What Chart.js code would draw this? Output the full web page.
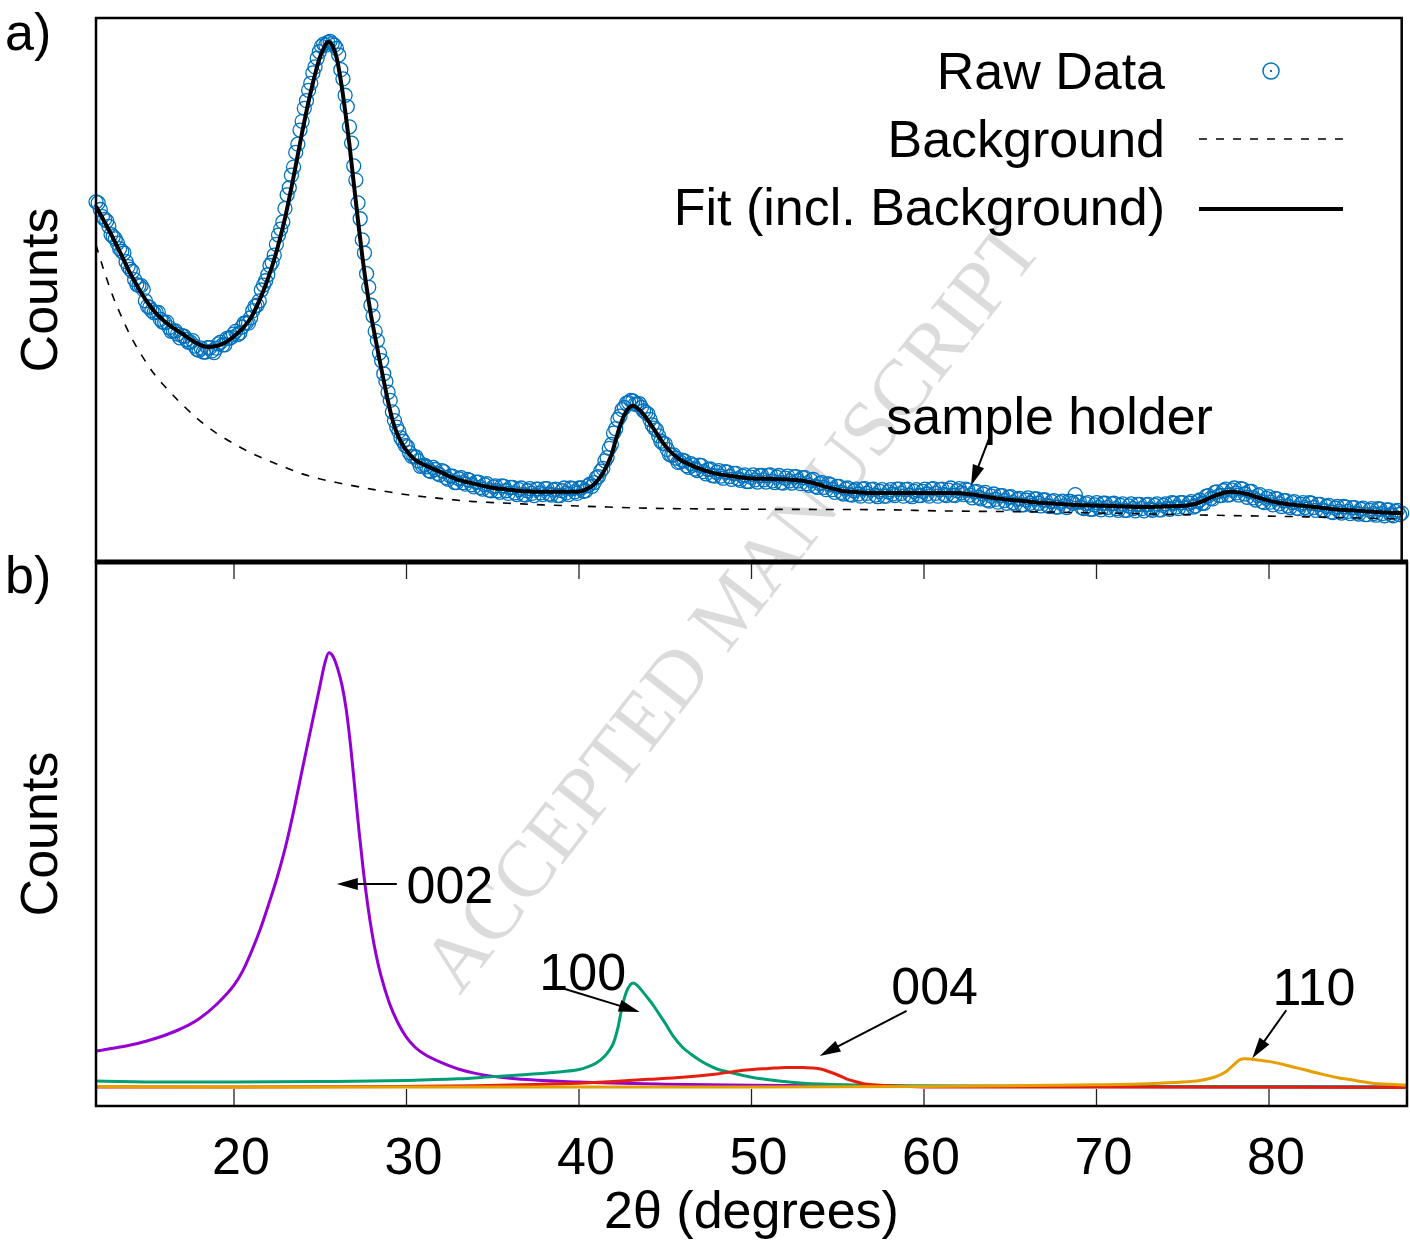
<!DOCTYPE html>
<html>
<head>
<meta charset="utf-8">
<script src="https://cdn.jsdelivr.net/npm/chart.js@4.4.1/dist/chart.umd.min.js"></script>
<style>
  body { margin: 0; background: #fff; }
  #wrap { position: relative; width: 1410px; height: 1242px; }
  #wrap canvas { position: absolute; left: 0; top: 0; }
</style>
</head>
<body>
<div id="wrap">
  <canvas id="bottomChart" width="1410" height="1242"></canvas>
  <canvas id="topChart" width="1410" height="1242"></canvas>
</div>
<script>
// x range (2 theta, degrees)
const xMin = 12;
const xMax = 88;

// Raw data, one point every 0.125 deg from 12 to 88 (arbitrary counts), 8 per row
const rawStart = 12;
const rawStep = 0.125;
const rawY = [
  662, 660, 648, 635, 630, 627, 617, 602,
  598, 594, 586, 576, 571, 568, 552, 543,
  538, 534, 519, 510, 508, 508, 501, 480,
  470, 468, 462, 458, 459, 459, 446, 441,
  440, 441, 431, 424, 425, 425, 419, 412,
  416, 415, 409, 404, 404, 407, 397, 391,
  389, 393, 386, 386, 394, 394, 388, 385,
  393, 401, 404, 399, 399, 411, 411, 413,
  419, 424, 418, 421, 432, 439, 440, 439,
  449, 462, 470, 472, 480, 500, 509, 517,
  528, 545, 551, 564, 584, 601, 612, 625,
  650, 675, 688, 711, 726, 753, 768, 794,
  810, 834, 848, 867, 880, 899, 910, 926,
  938, 948, 952, 950, 955, 957, 953, 950,
  944, 932, 905, 888, 858, 837, 800, 770,
  728, 702, 660, 631, 592, 568, 530, 505,
  472, 452, 424, 407, 384, 370, 346, 332,
  312, 297, 276, 260, 248, 240, 228, 222,
  214, 212, 201, 194, 194, 193, 186, 176,
  177, 178, 175, 168, 166, 174, 170, 163,
  160, 168, 166, 155, 152, 158, 158, 146,
  146, 153, 155, 146, 143, 152, 150, 142,
  138, 147, 147, 137, 134, 142, 144, 132,
  131, 138, 140, 131, 128, 140, 139, 131,
  126, 137, 137, 127, 124, 133, 136, 124,
  123, 131, 135, 126, 122, 134, 134, 127,
  124, 135, 135, 125, 123, 132, 134, 122,
  122, 131, 136, 127, 124, 136, 135, 129,
  126, 136, 136, 130, 131, 140, 143, 139,
  146, 155, 157, 167, 172, 186, 192, 209,
  216, 237, 245, 262, 268, 280, 284, 292,
  293, 297, 296, 290, 290, 291, 284, 278,
  275, 272, 262, 252, 246, 243, 232, 222,
  218, 217, 207, 198, 196, 197, 191, 183,
  184, 187, 186, 177, 174, 181, 178, 171,
  168, 178, 177, 166, 162, 170, 171, 159,
  158, 165, 168, 158, 154, 166, 165, 157,
  152, 163, 163, 153, 150, 158, 160, 148,
  148, 156, 160, 151, 147, 159, 159, 151,
  147, 159, 160, 149, 146, 156, 159, 146,
  145, 154, 158, 149, 145, 157, 157, 149,
  144, 155, 155, 144, 141, 150, 152, 139,
  137, 144, 146, 137, 133, 144, 142, 133,
  128, 139, 139, 128, 125, 134, 136, 124,
  123, 131, 134, 125, 121, 134, 135, 126,
  121, 133, 134, 123, 120, 130, 133, 121,
  121, 129, 133, 125, 122, 134, 134, 126,
  121, 133, 134, 123, 120, 130, 133, 122,
  122, 130, 134, 125, 121, 134, 135, 126,
  121, 133, 134, 124, 122, 132, 136, 123,
  122, 131, 135, 127, 124, 134, 132, 123,
  118, 129, 130, 119, 116, 125, 128, 114,
  112, 121, 125, 115, 110, 122, 122, 113,
  108, 119, 120, 109, 106, 115, 117, 105,
  105, 114, 118, 108, 104, 116, 116, 108,
  103, 114, 114, 104, 102, 111, 113, 101,
  101, 109, 112, 103, 100, 112, 111, 108,
  124, 110, 110, 100, 98, 107, 109, 97,
  97, 105, 109, 100, 96, 108, 108, 100,
  96, 107, 108, 98, 95, 104, 107, 95,
  95, 103, 107, 98, 94, 106, 106, 98,
  94, 105, 106, 97, 95, 104, 107, 96,
  96, 104, 107, 99, 97, 109, 108, 101,
  98, 109, 109, 100, 99, 108, 111, 101,
  103, 111, 114, 108, 108, 121, 122, 117,
  116, 128, 129, 122, 122, 131, 134, 123,
  124, 132, 136, 127, 123, 135, 134, 125,
  119, 130, 130, 118, 114, 122, 124, 111,
  109, 117, 120, 110, 105, 117, 116, 107,
  102, 113, 113, 103, 100, 109, 111, 99,
  98, 106, 109, 100, 97, 109, 108, 100,
  95, 106, 106, 96, 94, 102, 104, 92,
  91, 99, 102, 93, 90, 102, 101, 93,
  89, 100, 100, 90, 88, 97, 99, 87,
  87, 95, 98, 89, 86, 98, 97, 89,
  85, 96, 96, 87, 85, 93, 95, 87,
  90
];

// Fit (incl. background)
const fitX = [12, 12.5, 13, 13.5, 14, 14.5, 15, 15.5, 16, 16.5, 17, 17.5, 18, 18.5, 19, 19.5, 20, 20.5, 21, 21.5,
  22, 22.5, 23, 23.5, 24, 24.5, 25, 25.25, 25.5, 25.75, 26, 26.25, 26.5, 26.75, 27, 27.25, 27.5, 27.75, 28, 28.25,
  28.5, 28.75, 29, 29.25, 29.5, 29.75, 30, 30.5, 31, 31.5, 32, 33, 34, 35, 36, 37, 38, 39, 40, 40.5,
  41, 41.5, 42, 42.25, 42.5, 42.75, 43, 43.25, 43.5, 43.75, 44, 44.5, 45, 45.5, 46, 46.5, 47, 48, 49, 50,
  51, 52, 53, 53.5, 54, 54.5, 55, 55.5, 56, 57, 58, 60, 62, 63, 64, 65, 66, 67, 68, 69,
  70, 71, 72, 73, 74, 75, 75.5, 76, 76.5, 77, 77.5, 78, 78.5, 79, 79.5, 80, 80.5, 81, 82, 83,
  84, 85, 86, 87, 88];
const fitY = [654, 625, 595, 563, 530, 502, 477, 457, 442, 430, 420, 409, 400, 395, 397, 403, 414, 428, 448, 480,
  520, 570, 632, 708, 790, 864, 925, 944, 956, 950, 928, 885, 830, 768, 697, 628, 562, 505, 455, 413,
  372, 333, 295, 262, 238, 221, 208, 190, 180, 173, 166, 152, 144, 137, 133, 130, 129, 129, 129, 133,
  143, 163, 197, 224, 250, 270, 283, 287, 283, 276, 266, 243, 219, 201, 188, 180, 173, 163, 158, 154,
  153, 152, 150, 147, 143, 138, 134, 130, 129, 127, 127, 127, 127, 124, 119, 115, 112, 109, 107, 105,
  104, 103, 102, 101, 102, 103, 104, 107, 113, 120, 126, 129, 128, 125, 120, 115, 111, 108, 104, 101,
  97, 95, 93, 91, 90];

// Background
const bgX = [12, 12.4, 13, 13.5, 14, 14.5, 15, 15.5, 16, 17, 18, 19, 20, 21, 22, 23, 24, 25, 26, 27,
  28, 29, 30, 32, 34, 36, 38, 40, 44, 50, 58, 61, 67, 77, 82.5, 88];
const bgY = [583, 542, 487, 450, 416, 388, 363, 341, 323, 290, 261, 237, 218, 201, 187, 174, 162, 153, 146, 140,
  134, 129, 124, 117, 111, 108, 105, 103, 99, 97, 96, 94, 92, 86, 83, 79];

// Fitted peaks (panel b)
const peak002X = [12, 13, 14, 15, 16, 17, 18, 19, 20, 20.5, 21, 21.5, 22, 22.5, 23, 23.5, 24, 24.5, 25, 25.25,
  25.5, 25.75, 26, 26.25, 26.5, 26.75, 27, 27.25, 27.5, 27.75, 28, 28.25, 28.5, 29, 29.5, 30, 30.5, 31, 32, 33,
  34, 36, 40, 45, 50, 60, 88];
const peak002Y = [101, 106, 112, 120, 130, 143, 161, 187, 222, 248, 283, 323, 370, 420, 478, 548, 625, 700, 775, 812,
  833, 826, 805, 775, 730, 665, 585, 505, 432, 370, 318, 276, 242, 190, 153, 126, 108, 96, 80, 68,
  60, 51, 44, 40, 38, 36, 35];

const peak100X = [12, 16, 20, 25, 30, 33, 35, 37, 39, 40, 40.5, 41, 41.5, 41.75, 42, 42.25, 42.5, 42.75, 43, 43.15,
  43.4, 43.75, 44, 44.27, 44.5, 45, 45.43, 46, 46.5, 47, 47.5, 48, 48.73, 50, 51.6, 53, 55.5, 60, 70, 88];
const peak100Y = [46, 44, 44, 45, 47, 50, 54, 58, 63, 67, 72, 79, 92, 102, 116, 143, 182, 210, 224, 226,
  221, 208, 198, 187, 176, 152, 130, 108, 95, 84, 75, 68, 62, 53, 46, 42, 39, 37, 36, 35];

const peak004X = [12, 20, 30, 34, 38, 40, 42, 44, 46, 48, 49.7, 51, 52, 53, 53.5, 54, 54.5, 55, 55.5, 56,
  56.5, 57, 58, 60, 70, 88];
const peak004Y = [35, 35, 36, 37, 40, 42, 45, 49, 53, 59, 66, 69, 71, 71, 70, 68, 63, 57, 50, 45,
  41, 39, 37, 35, 35, 34];

const peak110X = [12, 20, 30, 40, 50, 60, 65, 70, 73, 75, 76, 76.5, 77, 77.5, 78, 78.3, 78.6, 79, 79.5, 80,
  81, 82, 83, 84, 85, 86, 87, 88];
const peak110Y = [36, 35, 35, 35, 35, 36, 37, 39, 41, 44, 47, 50, 55, 63, 77, 85, 87, 86, 84, 82,
  75, 67, 59, 52, 47, 42, 40, 38];

const xTickStep = 10;

// label + arrow annotations, in data units
const topNotes = [
  { text: 'sample holder', tx: 58.0, ty: 235, from: [63.97, 226], to: [62.93, 140] }
];
const bottomNotes = [
  { text: '002', tx: 30.0, ty: 373, from: [29.44, 408], to: [25.96, 408] },
  { text: '100', tx: 37.7, ty: 213, from: [39.0, 217], to: [43.52, 173] },
  { text: '004', tx: 58.1, ty: 187, from: [58.99, 175], to: [53.95, 92] },
  { text: '110', tx: 80.2, ty: 186, from: [81.0, 176], to: [79.03, 88] }
];

const FONT = "'Liberation Sans', Arial, Helvetica, sans-serif";
Chart.defaults.font.family = FONT;
Chart.defaults.font.size = 52;
Chart.defaults.color = '#000';

const toPoints = (xs, ys) => xs.map((x, i) => ({ x: x, y: ys[i] }));
const rawPoints = rawY.map((y, i) => ({ x: rawStart + i * rawStep, y: y }));

function drawArrow(ctx, x1, y1, x2, y2) {
  const a = Math.atan2(y2 - y1, x2 - x1);
  const c = Math.cos(a), s = Math.sin(a);
  ctx.beginPath();
  ctx.moveTo(x1, y1);
  ctx.lineTo(x2 - 12 * c, y2 - 12 * s);
  ctx.stroke();
  ctx.beginPath();
  ctx.moveTo(x2, y2);
  ctx.lineTo(x2 - 21 * c + 6 * s, y2 - 21 * s - 6 * c);
  ctx.lineTo(x2 - 21 * c - 6 * s, y2 - 21 * s + 6 * c);
  ctx.closePath();
  ctx.fill();
}

// frame + notes, shared by both panels
const panelPlugin = {
  id: 'panel',
  afterDraw(chart, args, opts) {
    const { ctx, chartArea: a, scales } = chart;
    ctx.save();
    ctx.strokeStyle = '#000';
    ctx.lineWidth = 2.5;
    ctx.strokeRect(a.left, a.top, a.right - a.left, a.bottom - a.top);

    ctx.font = '52px ' + FONT;
    ctx.fillStyle = '#000';
    ctx.textAlign = 'left';
    ctx.textBaseline = 'alphabetic';
    ctx.fillText(opts.tag, 5, opts.tagY);

    ctx.lineWidth = 2;
    (opts.notes || []).forEach(n => {
      ctx.fillText(n.text, scales.x.getPixelForValue(n.tx), scales.y.getPixelForValue(n.ty));
      drawArrow(ctx,
        scales.x.getPixelForValue(n.from[0]), scales.y.getPixelForValue(n.from[1]),
        scales.x.getPixelForValue(n.to[0]), scales.y.getPixelForValue(n.to[1]));
    });
    ctx.restore();
  }
};

// key for panel a, text right aligned with sample to the right
const keyPlugin = {
  id: 'key',
  afterDraw(chart) {
    const ctx = chart.ctx;
    const ds = chart.data.datasets;
    const raw = ds[2], bg = ds[1], fit = ds[0];
    ctx.save();
    ctx.font = '52px ' + FONT;
    ctx.fillStyle = '#000';
    ctx.textAlign = 'right';
    ctx.textBaseline = 'alphabetic';
    ctx.fillText(raw.label, 1165, 89);
    ctx.fillText(bg.label, 1165, 157);
    ctx.fillText(fit.label, 1165, 225);

    ctx.strokeStyle = raw.pointBorderColor;
    ctx.lineWidth = 1.5;
    ctx.beginPath();
    ctx.arc(1271, 71, 8, 0, Math.PI * 2);
    ctx.stroke();
    ctx.fillStyle = raw.pointBorderColor;
    ctx.fillRect(1270, 70, 2, 2);

    ctx.strokeStyle = '#000';
    ctx.lineWidth = bg.borderWidth;
    ctx.setLineDash(bg.borderDash);
    ctx.beginPath();
    ctx.moveTo(1199, 139);
    ctx.lineTo(1343, 139);
    ctx.stroke();
    ctx.setLineDash([]);
    ctx.lineWidth = fit.borderWidth;
    ctx.beginPath();
    ctx.moveTo(1199, 209);
    ctx.lineTo(1343, 209);
    ctx.stroke();
    ctx.restore();
  }
};

// inward ticks on panel b, the thick divider, and the watermark
const bottomDecor = {
  id: 'bottomDecor',
  beforeDatasetsDraw(chart) {
    const ctx = chart.ctx;
    ctx.save();
    ctx.translate(752, 622);
    ctx.rotate(-52 * Math.PI / 180);
    ctx.font = "80px 'Liberation Serif', 'Times New Roman', serif";
    ctx.fillStyle = 'rgba(0,0,0,0.14)';
    ctx.textAlign = 'center';
    ctx.textBaseline = 'alphabetic';
    ctx.fillText('ACCEPTED MANUSCRIPT', 0, 0);
    ctx.restore();
  },
  afterDraw(chart) {
    const { ctx, chartArea: a, scales } = chart;
    ctx.save();
    ctx.strokeStyle = '#222';
    ctx.lineWidth = 1.3;
    scales.x.ticks.forEach(t => {
      const px = scales.x.getPixelForValue(t.value);
      ctx.beginPath();
      ctx.moveTo(px, a.bottom);
      ctx.lineTo(px, a.bottom - 17);
      ctx.moveTo(px, a.top);
      ctx.lineTo(px, a.top + 17);
      ctx.stroke();
    });
    ctx.strokeStyle = '#000';
    ctx.lineWidth = 5;
    ctx.beginPath();
    ctx.moveTo(a.left - 1, a.top);
    ctx.lineTo(a.right + 1, a.top);
    ctx.stroke();
    ctx.restore();
  }
};

const countsAxis = {
  min: 0,
  max: 1000,
  ticks: { display: false },
  grid: { display: false, drawTicks: false },
  border: { display: false },
  title: { display: true, text: 'Counts', padding: { top: 11, bottom: 0 } },
  afterFit(scale) { scale.width = 96; }
};

const lineStyle = { pointRadius: 0, fill: false, cubicInterpolationMode: 'monotone' };

const topChart = new Chart(document.getElementById('topChart'), {
  type: 'line',
  data: {
    datasets: [
      { label: 'Fit (incl. Background)', data: toPoints(fitX, fitY), borderColor: '#000', borderWidth: 4, order: 1, ...lineStyle },
      { label: 'Background', data: toPoints(bgX, bgY), borderColor: '#000', borderWidth: 1.6, borderDash: [8, 9], order: 2, ...lineStyle },
      {
        label: 'Raw Data', data: rawPoints, showLine: false, order: 3, clip: false,
        pointRadius: 7, pointBorderWidth: 1.3,
        pointBorderColor: '#0072bd', pointBackgroundColor: 'rgba(0,0,0,0)'
      }
    ]
  },
  options: {
    responsive: false,
    animation: false,
    devicePixelRatio: 1,
    layout: { padding: { left: 0, right: 3, top: 18, bottom: 680 } },
    scales: {
      x: { type: 'linear', min: xMin, max: xMax, display: false },
      y: countsAxis
    },
    plugins: {
      legend: { display: false },
      tooltip: { enabled: false },
      panel: { tag: 'a)', tagY: 50, notes: topNotes }
    }
  },
  plugins: [panelPlugin, keyPlugin]
});

const bottomChart = new Chart(document.getElementById('bottomChart'), {
  type: 'line',
  data: {
    datasets: [
      { label: '110', data: toPoints(peak110X, peak110Y), borderColor: '#e69f00', borderWidth: 3, order: 1, ...lineStyle },
      { label: '004', data: toPoints(peak004X, peak004Y), borderColor: '#e51e10', borderWidth: 3, order: 2, ...lineStyle },
      { label: '100', data: toPoints(peak100X, peak100Y), borderColor: '#009e73', borderWidth: 3, order: 3, ...lineStyle },
      { label: '002', data: toPoints(peak002X, peak002Y), borderColor: '#9400d3', borderWidth: 3, order: 4, ...lineStyle }
    ]
  },
  options: {
    responsive: false,
    animation: false,
    devicePixelRatio: 1,
    layout: { padding: { left: 0, right: 3, top: 562, bottom: 0 } },
    scales: {
      x: {
        type: 'linear', min: xMin, max: xMax,
        ticks: { stepSize: xTickStep, includeBounds: false, padding: 22, labelOffset: 7, maxRotation: 0 },
        grid: { display: false, drawTicks: false },
        border: { display: false },
        title: { display: true, text: '2θ (degrees)', font: { lineHeight: 1.1 }, padding: { top: 0, bottom: 0 } },
        afterFit(scale) { scale.height = 136; }
      },
      y: countsAxis
    },
    plugins: {
      legend: { display: false },
      tooltip: { enabled: false },
      panel: { tag: 'b)', tagY: 593, notes: bottomNotes }
    }
  },
  plugins: [bottomDecor, panelPlugin]
});
</script>
</body>
</html>
